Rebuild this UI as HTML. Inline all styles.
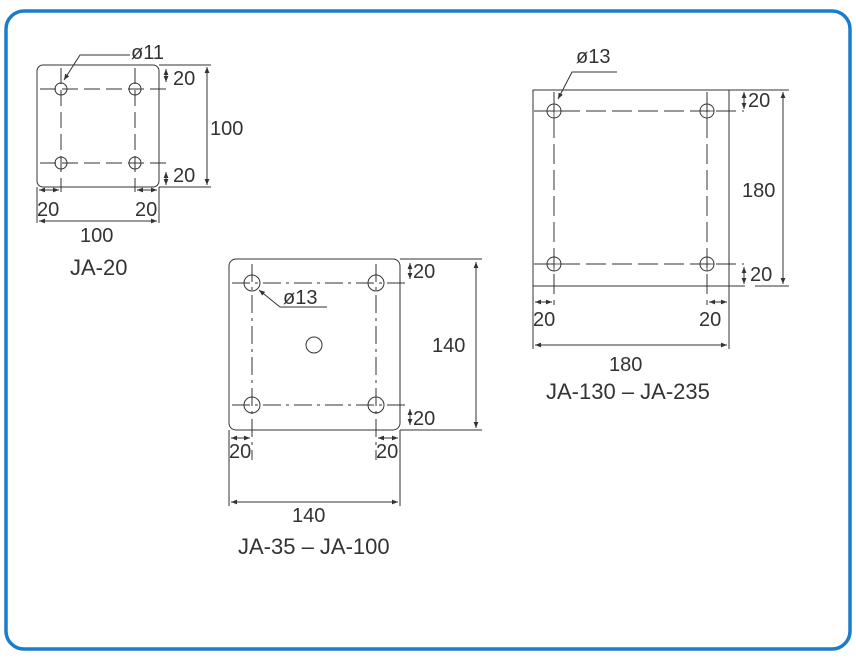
<!DOCTYPE html>
<html><head><meta charset="utf-8"><style>
html,body{margin:0;padding:0;background:#fff;}
svg{display:block;}
text{font-family:"Liberation Sans",sans-serif;fill:#333;font-size:20px;}
</style></head><body>
<svg width="856" height="659" viewBox="0 0 856 659" xmlns="http://www.w3.org/2000/svg">
<defs>
<marker id="a" viewBox="0 0 10 10" refX="10" refY="5" markerWidth="6" markerHeight="6" orient="auto-start-reverse"><path d="M0,1 L10,5 L0,9 z" fill="#333"/></marker>
</defs>
<rect x="6" y="11" width="844" height="638" rx="18" fill="none" stroke="#1a7ccc" stroke-width="3.5"/>
<g stroke="#333" stroke-width="1" fill="none">
<!-- JA-20 -->
<rect x="37" y="65" width="122" height="122" rx="6"/>
<g stroke-dasharray="16,6">
<line x1="40" y1="89" x2="166" y2="89"/><line x1="40" y1="163" x2="166" y2="163"/>
<line x1="61" y1="68" x2="61" y2="192"/><line x1="135" y1="68" x2="135" y2="192"/>
</g>
<circle cx="61" cy="89" r="6"/><circle cx="135" cy="89" r="6"/><circle cx="61" cy="163" r="6"/><circle cx="135" cy="163" r="6"/>
<line x1="159" y1="65" x2="211" y2="65"/><line x1="159" y1="187" x2="211" y2="187"/>
<line x1="207" y1="67" x2="207" y2="185" marker-start="url(#a)" marker-end="url(#a)"/>
<line x1="166" y1="69" x2="166" y2="82" marker-start="url(#a)" marker-end="url(#a)"/>
<line x1="166" y1="172" x2="166" y2="185" marker-start="url(#a)" marker-end="url(#a)"/>
<line x1="37" y1="187" x2="37" y2="223"/><line x1="159" y1="187" x2="159" y2="223"/>
<line x1="39" y1="190" x2="59" y2="190" marker-start="url(#a)" marker-end="url(#a)"/>
<line x1="137" y1="190" x2="157" y2="190" marker-start="url(#a)" marker-end="url(#a)"/>
<line x1="39" y1="221" x2="157" y2="221" marker-start="url(#a)" marker-end="url(#a)"/>
<polyline points="130,55 80,55 64,80" marker-end="url(#a)"/>
<!-- JA-35 -->
<rect x="229" y="259" width="171" height="171" rx="7"/>
<g stroke-dasharray="18,5,3,5">
<line x1="232" y1="283" x2="410" y2="283"/><line x1="232" y1="405" x2="410" y2="405"/>
<line x1="252" y1="264" x2="252" y2="460"/><line x1="376" y1="264" x2="376" y2="460"/>
</g>
<circle cx="252" cy="283" r="8"/><circle cx="376" cy="283" r="8"/><circle cx="252" cy="405" r="8"/><circle cx="376" cy="405" r="8"/>
<circle cx="314" cy="345" r="8"/>
<line x1="400" y1="259" x2="482" y2="259"/><line x1="400" y1="430" x2="482" y2="430"/>
<line x1="476" y1="262" x2="476" y2="428" marker-start="url(#a)" marker-end="url(#a)"/>
<line x1="410" y1="263" x2="410" y2="279" marker-start="url(#a)" marker-end="url(#a)"/>
<line x1="410" y1="409" x2="410" y2="425" marker-start="url(#a)" marker-end="url(#a)"/>
<line x1="229" y1="430" x2="229" y2="506"/><line x1="400" y1="430" x2="400" y2="506"/>
<line x1="231" y1="438" x2="250" y2="438" marker-start="url(#a)" marker-end="url(#a)"/>
<line x1="378" y1="438" x2="398" y2="438" marker-start="url(#a)" marker-end="url(#a)"/>
<line x1="231" y1="502" x2="398" y2="502" marker-start="url(#a)" marker-end="url(#a)"/>
<polyline points="327,307 280,307 259,290" marker-end="url(#a)"/>
<!-- JA-130 -->
<rect x="533" y="90" width="196" height="196"/>
<g stroke-dasharray="20,6">
<line x1="534" y1="111" x2="744" y2="111"/><line x1="534" y1="264" x2="744" y2="264"/>
<line x1="554" y1="92" x2="554" y2="305"/><line x1="707" y1="92" x2="707" y2="305"/>
</g>
<circle cx="554" cy="111" r="7"/><circle cx="707" cy="111" r="7"/><circle cx="554" cy="264" r="7"/><circle cx="707" cy="264" r="7"/>
<g stroke-width="0.8"><line x1="547" y1="111" x2="561" y2="111"/><line x1="554" y1="104" x2="554" y2="118"/>
<line x1="700" y1="111" x2="714" y2="111"/><line x1="707" y1="104" x2="707" y2="118"/>
<line x1="547" y1="264" x2="561" y2="264"/><line x1="554" y1="257" x2="554" y2="271"/>
<line x1="700" y1="264" x2="714" y2="264"/><line x1="707" y1="257" x2="707" y2="271"/></g>
<line x1="729" y1="90" x2="789" y2="90"/><line x1="533" y1="286" x2="745" y2="286"/><line x1="755" y1="286" x2="789" y2="286"/>
<line x1="783" y1="92" x2="783" y2="284" marker-start="url(#a)" marker-end="url(#a)"/>
<line x1="744" y1="92" x2="744" y2="109" marker-start="url(#a)" marker-end="url(#a)"/>
<line x1="744" y1="267" x2="744" y2="284" marker-start="url(#a)" marker-end="url(#a)"/>
<line x1="533" y1="286" x2="533" y2="349"/><line x1="729" y1="286" x2="729" y2="349"/>
<line x1="535" y1="302" x2="552" y2="302" marker-start="url(#a)" marker-end="url(#a)"/>
<line x1="709" y1="302" x2="727" y2="302" marker-start="url(#a)" marker-end="url(#a)"/>
<line x1="535" y1="345" x2="727" y2="345" marker-start="url(#a)" marker-end="url(#a)"/>
<polyline points="617,72 572,72 558,99" marker-end="url(#a)"/>
</g>
<!-- text -->
<text x="131" y="59">ø11</text>
<text x="173" y="85">20</text><text x="173" y="182">20</text>
<text x="210" y="135">100</text>
<text x="37" y="216">20</text><text x="135" y="216">20</text>
<text x="80" y="242">100</text>
<text x="70" y="275" style="font-size:22px">JA-20</text>
<text x="413" y="278">20</text><text x="413" y="425">20</text>
<text x="432" y="352">140</text>
<text x="283" y="304">ø13</text>
<text x="229" y="458">20</text><text x="376" y="458">20</text>
<text x="292" y="522">140</text>
<text x="238" y="554" style="font-size:22px">JA-35 – JA-100</text>
<text x="576" y="63">ø13</text>
<text x="748" y="107">20</text><text x="750" y="281">20</text>
<text x="742" y="197">180</text>
<text x="533" y="326">20</text><text x="699" y="326">20</text>
<text x="609" y="371">180</text>
<text x="546" y="399" style="font-size:22px">JA-130 – JA-235</text>
</svg>
</body></html>
